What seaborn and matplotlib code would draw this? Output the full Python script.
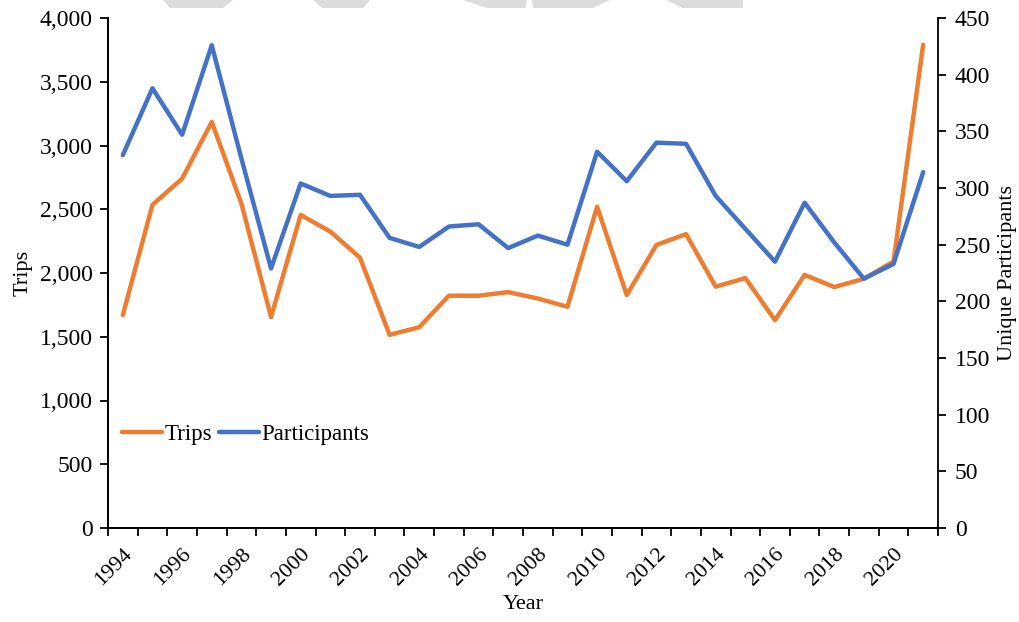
import matplotlib
matplotlib.use("Agg")
import matplotlib.pyplot as plt
from matplotlib.patches import Polygon
from matplotlib.ticker import FuncFormatter, MultipleLocator, FixedLocator
import seaborn as sns

# Annual trips and unique participants
years = list(range(1994, 2022))
trips = [1670, 2535, 2740, 3185, 2545, 1655, 2455, 2325, 2120, 1515,
         1575, 1822, 1822, 1850, 1800, 1735, 2520, 1827, 2220, 2305,
         1893, 1960, 1630, 1985, 1890, 1955, 2090, 3790]
participants = [329, 388, 347, 426, 326, 229, 304, 293, 294, 256,
                248, 266, 268, 247, 258, 250, 332, 306, 340, 339,
                293, 264, 235, 287, 252, 220, 233, 314]
year_labels = [str(y) for y in years if y % 2 == 0]

sns.set_theme(style="white")
plt.rcParams["font.family"] = ["Liberation Serif", "DejaVu Serif"]
plt.rcParams["text.color"] = "black"
plt.rcParams["axes.labelcolor"] = "black"
plt.rcParams["xtick.color"] = "black"
plt.rcParams["ytick.color"] = "black"

ORANGE = "#ED7D31"
BLUE = "#4472C4"
YTICK_FS = 17
XTICK_FS = 16
LABEL_FS = 16

fig = plt.figure(figsize=(10.2, 6.22), dpi=100)
W, H = 1020, 622
ax = fig.add_axes([108 / W, 1 - 528 / H, (938 - 108) / W, (528 - 18) / H])
ax2 = ax.twinx()

sns.lineplot(x=years, y=trips, ax=ax, color=ORANGE, linewidth=3.2,
             label="Trips", legend=False)
sns.lineplot(x=years, y=participants, ax=ax2, color=BLUE, linewidth=3.2,
             label="Participants", legend=False)

ax.set_xlim(years[0] - 0.5, years[-1] + 0.5)
ax.set_ylim(0, 4000)
ax2.set_ylim(0, 450)

# category-style axis: ticks on boundaries, labels on every other year
ax.xaxis.set_major_locator(FixedLocator([y for y in years if y % 2 == 0]))
ax.set_xticklabels(year_labels, rotation=45, ha="right",
                   rotation_mode="anchor", fontsize=XTICK_FS)
ax.xaxis.set_minor_locator(FixedLocator([y - 0.5 for y in years] + [years[-1] + 0.5]))
ax.tick_params(axis="x", which="major", length=0, pad=12)
ax.tick_params(axis="x", which="minor", length=6, width=1.3,
               direction="out", color="black", bottom=True)

ax.yaxis.set_major_locator(MultipleLocator(500))
ax.yaxis.set_major_formatter(FuncFormatter(lambda v, p: f"{int(v):,}"))
ax2.yaxis.set_major_locator(MultipleLocator(50))
ax.tick_params(axis="y", length=6, width=1.3, direction="out", color="black",
               labelsize=YTICK_FS, pad=5, left=True)
ax2.tick_params(axis="y", length=6, width=1.3, direction="out", color="black",
                labelsize=YTICK_FS, pad=6, right=True)

for a in (ax, ax2):
    a.grid(False)
    a.spines["top"].set_visible(False)
    for s in ("left", "right", "bottom"):
        a.spines[s].set_color("black")
        a.spines[s].set_linewidth(1.3)
ax.spines["right"].set_visible(False)

ax.set_xlabel("Year", fontsize=LABEL_FS, labelpad=4)
ax.set_ylabel("Trips", fontsize=LABEL_FS, labelpad=5)
ax2.set_ylabel("Unique Participants", fontsize=LABEL_FS, labelpad=6)

h1, l1 = ax.get_legend_handles_labels()
h2, l2 = ax2.get_legend_handles_labels()
ax2.legend(h1 + h2, l1 + l2, loc="lower left", bbox_to_anchor=(0.0, 0.135),
           ncol=2, frameon=False, fontsize=16.5, handlelength=1.75,
           handletextpad=0.1, columnspacing=0.3, borderaxespad=0.2)

# light grey banner shapes along the top edge
shapes = [
    [(163, 0), (233, 0), (223, 8), (170, 8)],
    [(313, 0), (370, 0), (363, 8), (322, 8)],
    [(463, 0), (527, 0), (525, 8), (487, 8)],
    [(532, 0), (610, 0), (593, 8), (533, 8)],
    [(667, 0), (743, 0), (743, 8), (682, 8)],
]
for pts in shapes:
    fig.patches.append(Polygon([(x / W, 1 - y / H) for x, y in pts],
                               closed=True, transform=fig.transFigure,
                               facecolor="#dcdcdc", edgecolor="none"))

fig.savefig("out.png", dpi=100)
